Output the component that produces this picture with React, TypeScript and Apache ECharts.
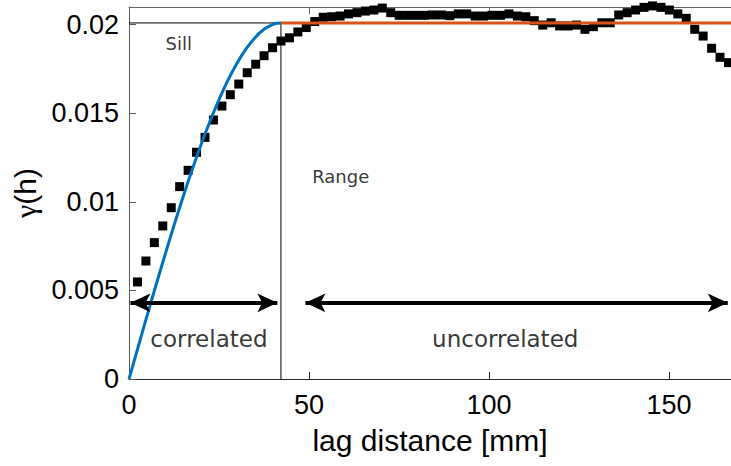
import React, { useEffect, useRef } from "react";
import * as echarts from "echarts";

// Empirical variogram: lag distance [mm] and semivariance γ(h)
const lagDistance = [
  2.35, 4.69, 7.04, 9.38, 11.73, 14.07, 16.42, 18.76, 21.11, 23.45,
  25.8, 28.14, 30.49, 32.83, 35.18, 37.52, 39.87, 42.21, 44.56, 46.9,
  49.25, 51.59, 53.94, 56.28, 58.63, 60.97, 63.32, 65.66, 68.01, 70.35,
  72.7, 75.04, 77.39, 79.73, 82.08, 84.42, 86.77, 89.11, 91.46, 93.8,
  96.15, 98.49, 100.84, 103.18, 105.53, 107.87, 110.22, 112.56, 114.91, 117.25,
  119.6, 121.94, 124.29, 126.63, 128.98, 131.32, 133.67, 136.01, 138.36, 140.7,
  143.05, 145.39, 147.74, 150.08, 152.43, 154.77, 157.12, 159.46, 161.81, 164.15,
  166.5,
];
const semivariance = [
  0.00548, 0.00666, 0.0077, 0.00864, 0.00967, 0.01086, 0.01178, 0.0128, 0.01364, 0.01462,
  0.01541, 0.01605, 0.01665, 0.01729, 0.01777, 0.01825, 0.0187, 0.01908, 0.01926, 0.01959,
  0.01984, 0.02018, 0.02042, 0.02045, 0.02049, 0.02061, 0.02068, 0.02077, 0.02083, 0.02094,
  0.02068, 0.02053, 0.02053, 0.02053, 0.02053, 0.02055, 0.02055, 0.02051, 0.02061, 0.02061,
  0.02049, 0.02049, 0.02053, 0.02053, 0.02061, 0.02049, 0.02045, 0.02023, 0.01998, 0.02011,
  0.01993, 0.01993, 0.01998, 0.01974, 0.01989, 0.02011, 0.02011, 0.02055, 0.02068, 0.02083,
  0.02098, 0.02106, 0.02098, 0.02083, 0.02061, 0.02036, 0.01974, 0.01936, 0.01867, 0.01816,
  0.01786,
];

// Fitted (spherical) model curve
const modelLag = [0, 2.5, 5, 7.5, 10, 12.5, 15, 17.5, 20, 22.5, 25, 27.5, 30, 32.5, 35, 37.5, 40, 41, 42.2];
const modelGamma = [
  0, 0.00178, 0.00356, 0.0053, 0.00701, 0.00867, 0.01027, 0.01179, 0.01322, 0.01455,
  0.01577, 0.01687, 0.01782, 0.01863, 0.01927, 0.01974, 0.02002, 0.02008, 0.0201,
];

const sill = 0.0201;
const range = 42.2;
const xMin = 0;
const xMax = 167.2;
const xInterval = 50;
const yMin = 0;
const yMax = 0.021;
const yInterval = 0.005;

const arrowLevel = 0.0043;
const correlatedSpan = [0.4, 41.2];
const uncorrelatedSpan = [49.0, 166.3];

const smallNotes = [
  { name: "Sill", value: [13.8, 0.01895] },
  { name: "Range", value: [58.8, 0.01142] },
];
const bigNotes = [
  { name: "correlated", value: [22.2, 0.00226] },
  { name: "uncorrelated", value: [104.5, 0.00226] },
];

const BLUE = "#0072BD";
const ORANGE = "#D95319";
const AXIS = "#262626";
const SANS = "'Liberation Sans', Arial, sans-serif";
const SERIF = "'Liberation Serif', 'Times New Roman', serif";
const DEJAVU = "'DejaVu Sans', sans-serif";

export default function App() {
  const ref = useRef<HTMLDivElement>(null);

  useEffect(() => {
    if (!ref.current) return;
    const chart = echarts.init(ref.current, undefined, { renderer: "svg" });

    const scatterData = lagDistance.map((h, i) => [h, semivariance[i]]);
    const modelData = modelLag.map((h, i) => [h, modelGamma[i]]);

    const option: any = {
      animation: false,
      backgroundColor: "#ffffff",
      grid: { left: 129, top: 7, right: 0, bottom: 87, containLabel: false },
      xAxis: [
        {
          type: "value",
          min: xMin,
          max: xMax,
          interval: xInterval,
          position: "bottom",
          axisLine: { show: true, onZero: false, lineStyle: { color: AXIS, width: 1 } },
          axisTick: { show: true, inside: true, length: 7, lineStyle: { color: AXIS, width: 1 } },
          axisLabel: {
            fontSize: 27,
            fontFamily: SANS,
            color: "#000",
            margin: 12,
            showMaxLabel: false,
          },
          splitLine: { show: false },
          name: "lag distance [mm]",
          nameLocation: "middle",
          nameGap: 46,
          nameTextStyle: { fontSize: 30, fontFamily: SANS, color: "#000" },
        },
        {
          type: "value",
          min: xMin,
          max: xMax,
          interval: xInterval,
          position: "top",
          axisLine: { show: true, onZero: false, lineStyle: { color: "#666", width: 1 } },
          axisTick: { show: true, inside: true, length: 7, lineStyle: { color: "#666", width: 1 } },
          axisLabel: { show: false },
          splitLine: { show: false },
        },
      ],
      yAxis: {
        type: "value",
        min: yMin,
        max: yMax,
        interval: yInterval,
        axisLine: { show: true, onZero: false, lineStyle: { color: "#555", width: 1 } },
        axisTick: { show: true, inside: true, length: 7, lineStyle: { color: "#555", width: 1 } },
        axisLabel: {
          fontSize: 27,
          fontFamily: SANS,
          color: "#000",
          margin: 10,
          showMaxLabel: false,
        },
        splitLine: { show: false },
        name: "{g|γ}(h)",
        nameLocation: "middle",
        nameGap: 63,
        nameRotate: 90,
        nameTextStyle: {
          fontSize: 30,
          fontFamily: SANS,
          color: "#000",
          rich: {
            g: { fontSize: 30, fontFamily: SERIF, color: "#000" },
          },
        },
      },
      series: [
        {
          type: "line",
          name: "sill guide",
          data: [
            [xMin, sill],
            [range, sill],
          ],
          showSymbol: false,
          symbol: "none",
          lineStyle: { color: "#000", width: 1 },
          silent: true,
        },
        {
          type: "line",
          name: "range guide",
          data: [
            [range, yMin],
            [range, sill],
          ],
          showSymbol: false,
          symbol: "none",
          lineStyle: { color: "#000", width: 1 },
          silent: true,
        },
        {
          type: "scatter",
          name: "empirical",
          data: scatterData,
          symbol: "rect",
          symbolSize: 9,
          itemStyle: { color: "#000", opacity: 1 },
          clip: false,
          silent: true,
        },
        {
          type: "line",
          name: "model",
          data: modelData,
          smooth: 0.3,
          showSymbol: false,
          symbol: "none",
          lineStyle: { color: BLUE, width: 3 },
          silent: true,
        },
        {
          type: "line",
          name: "sill line",
          data: [
            [range, sill],
            [xMax, sill],
          ],
          showSymbol: false,
          symbol: "none",
          lineStyle: { color: ORANGE, width: 3 },
          silent: true,
        },
        {
          type: "line",
          name: "arrows",
          data: [],
          silent: true,
          markLine: {
            silent: true,
            symbol: ["arrow", "arrow"],
            symbolSize: [14, 20],
            label: { show: false },
            lineStyle: { color: "#000", width: 4, type: "solid", opacity: 1 },
            emphasis: { disabled: true },
            data: [
              [{ coord: [correlatedSpan[0], arrowLevel] }, { coord: [correlatedSpan[1], arrowLevel] }],
              [{ coord: [uncorrelatedSpan[0], arrowLevel] }, { coord: [uncorrelatedSpan[1], arrowLevel] }],
            ],
          },
        },
        {
          type: "scatter",
          name: "small notes",
          data: smallNotes,
          symbol: "circle",
          symbolSize: 1,
          itemStyle: { color: "transparent" },
          silent: true,
          label: {
            show: true,
            position: "inside",
            formatter: (p: any) => p.name,
            fontSize: 18,
            fontFamily: DEJAVU,
            color: "#000",
          },
        },
        {
          type: "scatter",
          name: "big notes",
          data: bigNotes,
          symbol: "circle",
          symbolSize: 1,
          itemStyle: { color: "transparent" },
          silent: true,
          label: {
            show: true,
            position: "inside",
            formatter: (p: any) => p.name,
            fontSize: 23,
            fontFamily: DEJAVU,
            color: "#000",
          },
        },
      ],
    };

    chart.setOption(option);
    return () => chart.dispose();
  }, []);

  return (
    <div
      ref={ref}
      style={{ position: "fixed", left: 0, top: 0, width: 731, height: 466, background: "#fff" }}
    />
  );
}
